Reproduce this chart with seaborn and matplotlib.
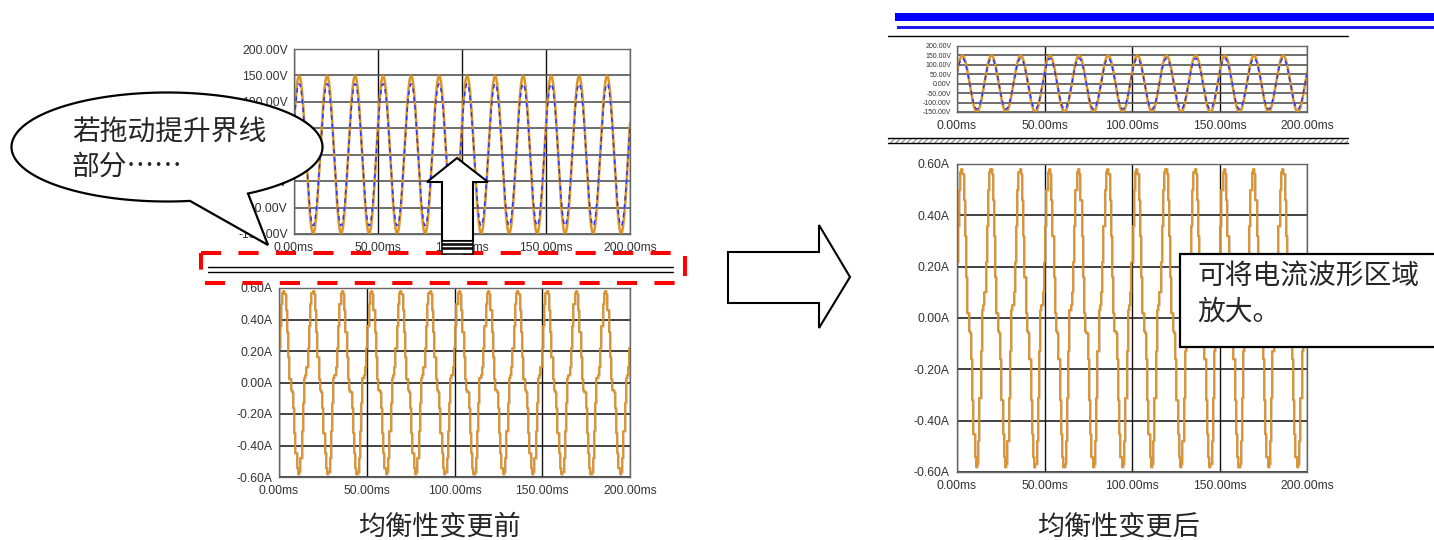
#!/usr/bin/env python3
"""Waveform before/after balance change - recreated with seaborn."""

import matplotlib
matplotlib.use("Agg")
import numpy as np
import pandas as pd
import matplotlib.pyplot as plt
from matplotlib.patches import Polygon, Rectangle, PathPatch
from matplotlib.path import Path
import seaborn as sns

W, H = 1434, 540
CJK = ["Noto Sans CJK SC", "DejaVu Sans"]

# 12 cycles of 60 Hz in 200 ms, 24 samples per cycle
CYCLES = 12
SAMPLES = 24
SAMPLE_MS = 200 / (CYCLES * SAMPLES)

V_ORANGE = [60, 94, 121, 140, 149, 148, 137, 117, 89, 55, 17, -22,
            -60, -94, -121, -140, -149, -148, -137, -117, -89, -55, -17, 22]
V_BLUE = [54, 84, 109, 126, 134, 133, 124, 105, 80, 49, 15, -20,
          -54, -84, -109, -126, -134, -133, -124, -105, -80, -49, -15, 20]
I_CYCLE = [0.22, 0.36, 0.50, 0.57, 0.58, 0.56, 0.46, 0.32, 0.16, 0.02, -0.05, -0.06,
           -0.16, -0.32, -0.45, -0.54, -0.58, -0.57, -0.48, -0.31, -0.13, 0.03, 0.05, 0.10]

T_TICKS = [0, 50, 100, 150, 200]
V_TICKS = [-150, -100, -50, 0, 50, 100, 150, 200]
I_TICKS = [-0.6, -0.4, -0.2, 0.0, 0.2, 0.4, 0.6]

ORANGE = "#ffa500"
BROWN = "#a27760"
BLUE = "#2b35ff"
LABEL = "#333333"


def series(cycle):
    vals = np.append(np.tile(cycle, CYCLES), cycle[0])
    return vals


n = CYCLES * SAMPLES + 1
volt = pd.DataFrame({"t": np.arange(n) * SAMPLE_MS,
                     "orange": series(V_ORANGE), "blue": series(V_BLUE)})
curr = pd.DataFrame({"t": np.arange(n) * SAMPLE_MS, "i": series(I_CYCLE)})


def make_axes(fig, left, top, right, bottom):
    return fig.add_axes([left / W, 1 - bottom / H, (right - left) / W, (bottom - top) / H])


def style_axes(ax, yticks, yfmt, ysize, hgrid, ylen):
    ax.set_xlim(0, 200)
    ax.set_ylim(yticks[0], yticks[-1])
    ax.set_xticks(T_TICKS)
    ax.set_xticklabels([f"{v:.2f}ms" for v in T_TICKS], fontsize=8.7,
                       color=LABEL, family="Liberation Sans")
    ax.set_yticks(yticks)
    ax.set_yticklabels([yfmt.format(v) for v in yticks], fontsize=ysize,
                       color=LABEL, family="Liberation Sans")
    ax.set_xlabel("")
    ax.set_ylabel("")
    ax.set_axisbelow(True)
    ax.xaxis.grid(True, color="#111111", lw=1)
    ax.yaxis.grid(True, color=hgrid, lw=1.2)
    ax.tick_params(axis="x", length=2.5, pad=3.5, color="#555555")
    ax.tick_params(axis="y", length=ylen, pad=2, color="#555555")
    for sp in ax.spines.values():
        sp.set_color("#666666")
        sp.set_linewidth(1)


def draw_voltage(ax, ysize, ylen):
    sns.lineplot(data=volt, x="t", y="orange", ax=ax, color=ORANGE, lw=1.6,
                 estimator=None, sort=False)
    sns.lineplot(data=volt, x="t", y="orange", ax=ax, color=BROWN, lw=2.0,
                 alpha=0.35, estimator=None, sort=False)
    sns.lineplot(data=volt, x="t", y="blue", ax=ax, color=BLUE, lw=1.1,
                 linestyle=(0, (3, 2.5)), estimator=None, sort=False)
    style_axes(ax, V_TICKS, "{:.2f}V", ysize, "#555555", ylen)


def draw_current(ax, ylen):
    sns.lineplot(data=curr, x="t", y="i", ax=ax, color=ORANGE, lw=1.3,
                 drawstyle="steps-mid", estimator=None, sort=False)
    sns.lineplot(data=curr, x="t", y="i", ax=ax, color=BROWN, lw=2.0, alpha=0.42,
                 drawstyle="steps-mid", estimator=None, sort=False)
    style_axes(ax, I_TICKS, "{:.2f}A", 8.7, "#222222", ylen)


def bubble(ov):
    cx, cy, a, b = 167, 147, 155.5, 54.5
    th = np.radians(np.linspace(81.5, 418.6, 200))
    pts = list(zip(cx + a * np.cos(th), cy + b * np.sin(th)))
    pts.append((268, 245))
    pts.append(pts[0])
    path = Path(pts, [Path.MOVETO] + [Path.LINETO] * (len(pts) - 2) + [Path.CLOSEPOLY])
    ov.add_patch(PathPatch(path, facecolor="white", edgecolor="black", lw=1.6))
    ov.text(72, 132, "若拖动提升界线", fontsize=20, family=CJK, va="center")
    ov.text(72, 167, "部分……", fontsize=20, family=CJK, va="center")


def main():
    sns.set_style("white")
    fig = plt.figure(figsize=(W / 100, H / 100), dpi=100)

    ax_lv = make_axes(fig, 294, 49, 630, 234)
    draw_voltage(ax_lv, 8.7, 2.5)
    ax_lc = make_axes(fig, 279, 288, 630, 477)
    draw_current(ax_lc, 2.5)
    ax_rv = make_axes(fig, 957, 46, 1307, 112)
    draw_voltage(ax_rv, 5, 2)
    ax_rc = make_axes(fig, 957, 164, 1307, 472)
    draw_current(ax_rc, 3.5)

    ov = fig.add_axes([0, 0, 1, 1], zorder=10)
    ov.set_xlim(0, W)
    ov.set_ylim(H, 0)
    ov.axis("off")

    # splitter on the left (double line) with the red dashed frame
    ov.plot([208, 673], [267, 267], color="black", lw=1)
    ov.plot([208, 673], [272, 272], color="black", lw=1)
    ov.add_patch(Rectangle((201, 253), 484, 30, fill=False, edgecolor="#ff0000",
                           lw=2.9, linestyle=(0, (5, 4.3))))

    # up arrow with the drag handle
    ov.add_patch(Polygon([(457, 158), (488, 182), (473, 182), (473, 241),
                          (442, 241), (442, 182), (427, 182)],
                         facecolor="white", edgecolor="black", lw=1.5))
    for y0, hh in [(241, 3), (244.5, 3), (249, 5)]:
        ov.add_patch(Rectangle((442, y0), 31, hh, facecolor="white",
                               edgecolor="black", lw=1.1))

    bubble(ov)

    # right arrow
    ov.add_patch(Polygon([(728, 252), (819, 252), (819, 225), (850, 277),
                          (819, 328), (819, 303), (728, 303)],
                         facecolor="white", edgecolor="black", lw=1.5))

    # header bars on the right
    ov.add_patch(Rectangle((895, 13), 545, 8, facecolor="#0000ff", lw=0))
    ov.add_patch(Rectangle((897, 26), 545, 3, facecolor="#1a1aee", lw=0))
    ov.plot([888, 1348], [36, 36], color="black", lw=1)
    ov.add_patch(Rectangle((888, 138), 460, 5, facecolor="white", edgecolor="#999999",
                           hatch="//////", lw=0))
    ov.plot([888, 1348], [138, 138], color="black", lw=1)
    ov.plot([888, 1348], [143, 143], color="black", lw=1)

    # note box
    ov.add_patch(Rectangle((1180, 254), 270, 93, facecolor="white",
                           edgecolor="black", lw=1.6, clip_on=False))
    ov.text(1197, 277, "可将电流波形区域", fontsize=20, family=CJK, va="center")
    ov.text(1197, 312, "放大。", fontsize=20, family=CJK, va="center")

    ov.text(439, 527, "均衡性变更前", fontsize=19.5, family=CJK, ha="center", va="center")
    ov.text(1118, 527, "均衡性变更后", fontsize=19.5, family=CJK, ha="center", va="center")

    fig.savefig("out.png", dpi=100)
    plt.close(fig)


if __name__ == "__main__":
    main()
